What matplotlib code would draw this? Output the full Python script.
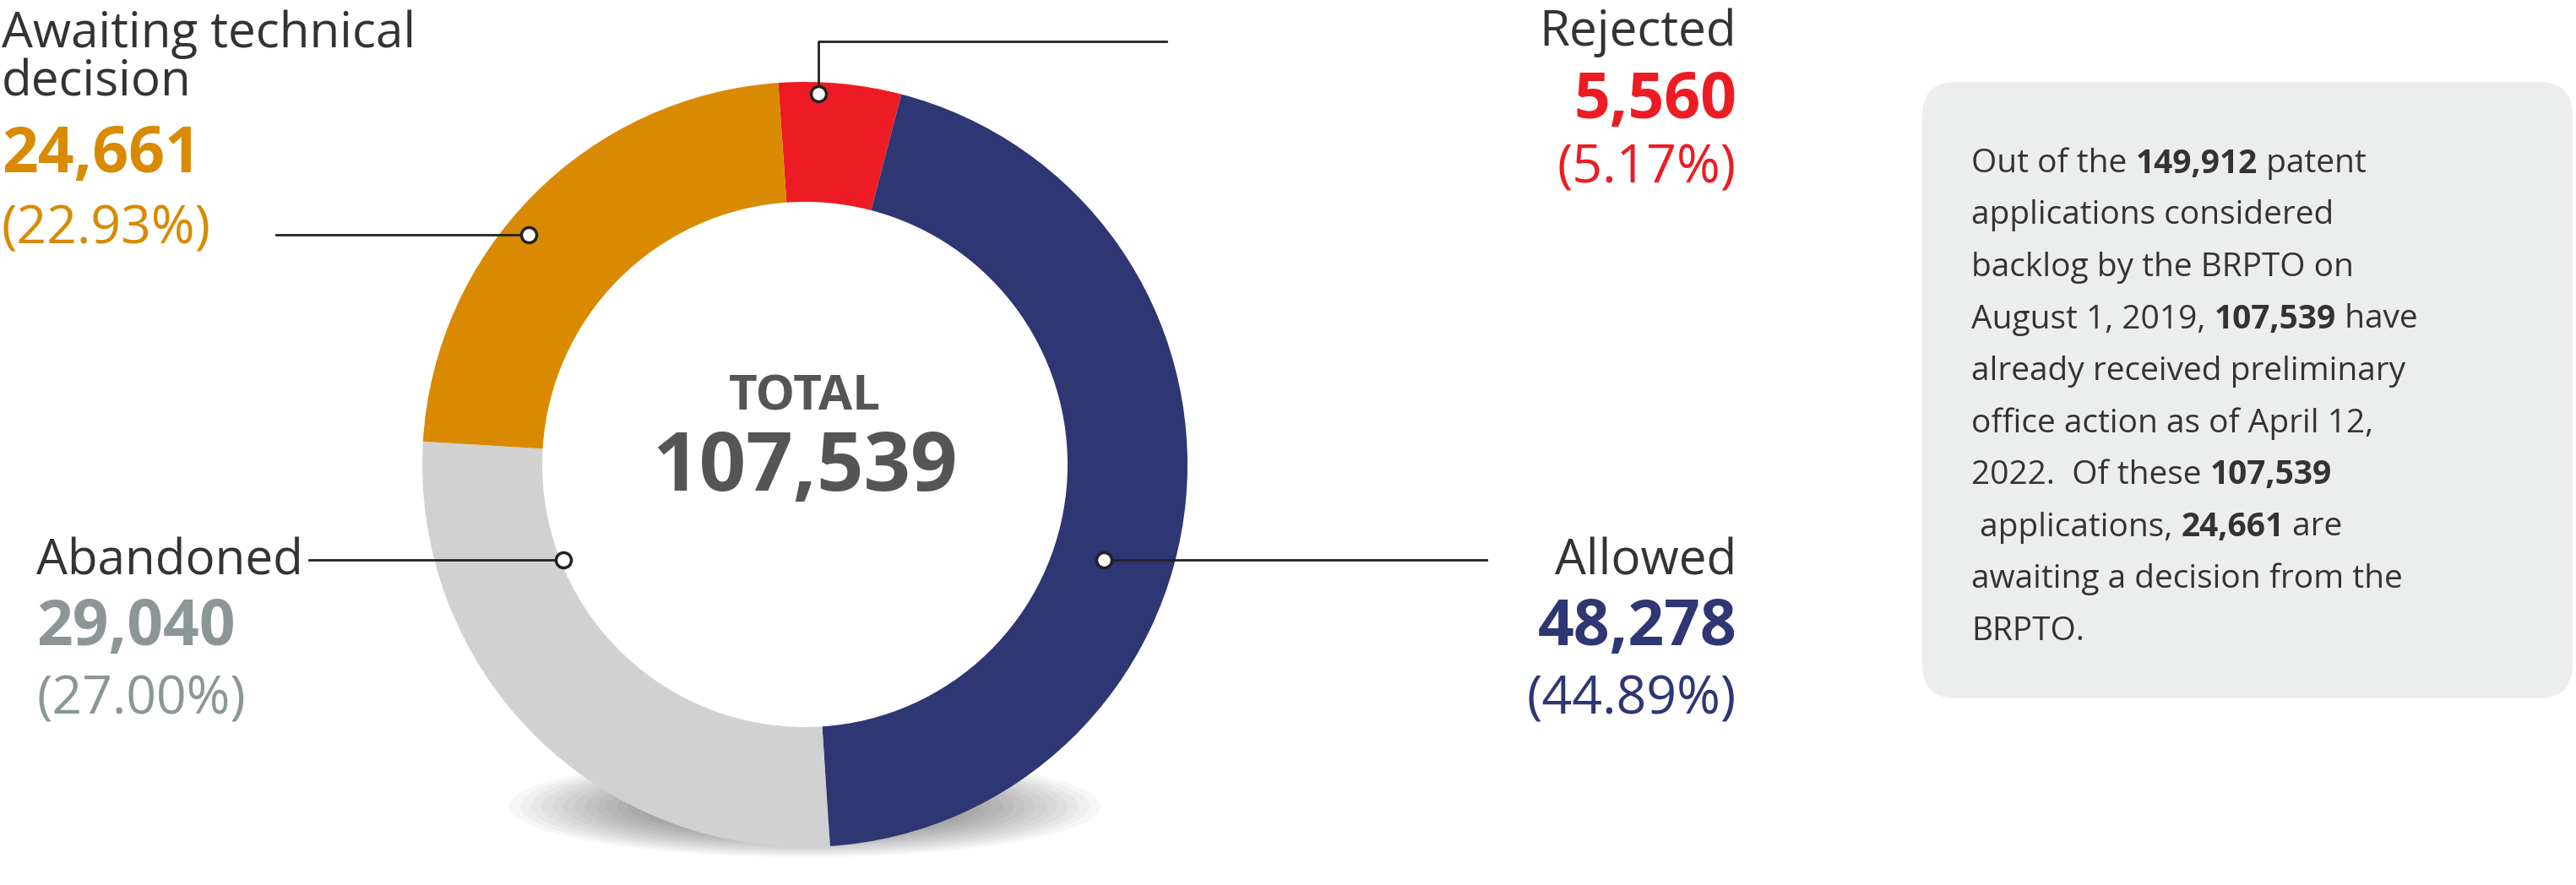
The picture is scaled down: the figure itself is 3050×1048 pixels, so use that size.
import matplotlib.pyplot as plt
from matplotlib.patches import Ellipse, FancyBboxPatch

plt.rcParams['font.family'] = ['Open Sans', 'DejaVu Sans']

labels = ['Rejected', 'Allowed', 'Abandoned', 'Awaiting technical\ndecision']
values = [5560, 48278, 29040, 24661]
pcts = ['(5.17%)', '(44.89%)', '(27.00%)', '(22.93%)']
colors = ['#ED1C24', '#2E3673', '#D0D1D0', '#D98A00']
text_colors = ['#ED1C24', '#2E3673', '#8C9696', '#D98A00']
total = 107539

note_lines = [
    [('Out of the ', False), ('149,912', True), (' patent', False)],
    [('applications considered', False)],
    [('backlog by the BRPTO on', False)],
    [('August 1, 2019, ', False), ('107,539', True), (' have', False)],
    [('already received preliminary', False)],
    [('office action as of April 12,', False)],
    [('2022.  Of these ', False), ('107,539', True)],
    [(' applications, ', False), ('24,661', True), (' are', False)],
    [('awaiting a decision from the', False)],
    [('BRPTO.', False)],
]

W, H = 3050, 1048
fig = plt.figure(figsize=(W / 100, H / 100), dpi=100)
ax = fig.add_axes([0, 0, 1, 1])

cx, cy, r = 953, 550, 453

# soft shadow under the ring
for i in range(25):
    f = 1 - i / 25
    ax.add_patch(Ellipse((cx, 955), 640 * f + 60, 110 * f + 10, color='#000000',
                         alpha=0.03, lw=0, zorder=0))

# y axis is flipped below, so angles are mirrored
ax.pie(values, colors=colors, startangle=-94, counterclock=True,
       center=(cx, cy), radius=r, wedgeprops=dict(width=r - 311, lw=0),
       frame=True)
ax.set_xlim(0, W)
ax.set_ylim(H, 0)
ax.set_aspect('equal')
ax.axis('off')

ax.text(cx, 470, 'TOTAL', ha='center', va='center', fontsize=42,
        fontweight='bold', color='#555555')
ax.text(cx, 556, f'{total:,}', ha='center', va='center', fontsize=70,
        fontweight='bold', color='#555555')

# leader lines and dots
leaders = [
    [(969, 111), (969, 49), (1381, 49)],
    [(1307, 663), (1760, 663)],
    [(667, 663), (366, 663)],
    [(626, 278), (327, 278)],
]
for pts in leaders:
    xs, ys = zip(*pts)
    ax.plot(xs, ys, color='#222222', lw=2, zorder=5)
    ax.plot(xs[0], ys[0], 'o', ms=13, mfc='white', mec='#222222', mew=2.5, zorder=6)

# labels: x, label y, number y, pct y, alignment
pos = [(2056, 39, 121, 200, 'right'), (2056, 665, 745, 829, 'right'),
       (43, 665, 745, 829, 'left'), (2, 39, 185, 272, 'left')]
for i, (x, y1, y2, y3, ha) in enumerate(pos):
    if '\n' in labels[i]:
        ax.text(x, y1 - 28, labels[i], ha=ha, va='top', fontsize=42,
                color='#333333', linespacing=1.0)
    else:
        ax.text(x, y1, labels[i], ha=ha, va='center', fontsize=42, color='#333333')
    ax.text(x, y2, f'{values[i]:,}', ha=ha, va='center', fontsize=54,
            fontweight='bold', color=text_colors[i])
    ax.text(x, y3, pcts[i], ha=ha, va='center', fontsize=45,
            color=text_colors[i])

# note box
ax.add_patch(FancyBboxPatch((2276, 97), 770, 730, boxstyle='round,pad=0,rounding_size=40',
                            fc='#ECEEED', ec='none'))
fig.canvas.draw()
renderer = fig.canvas.get_renderer()
inv = ax.transData.inverted()
y = 194
for line in note_lines:
    x = 2334
    for seg, bold in line:
        t = ax.text(x, y, seg, ha='left', va='center', fontsize=28, color='#333333',
                    fontweight='bold' if bold else 'normal')
        bb = t.get_window_extent(renderer)
        x0 = inv.transform((bb.x0, bb.y0))[0]
        x1 = inv.transform((bb.x1, bb.y0))[0]
        x += x1 - x0
    y += 61.5

fig.savefig('out.png', dpi=100)
